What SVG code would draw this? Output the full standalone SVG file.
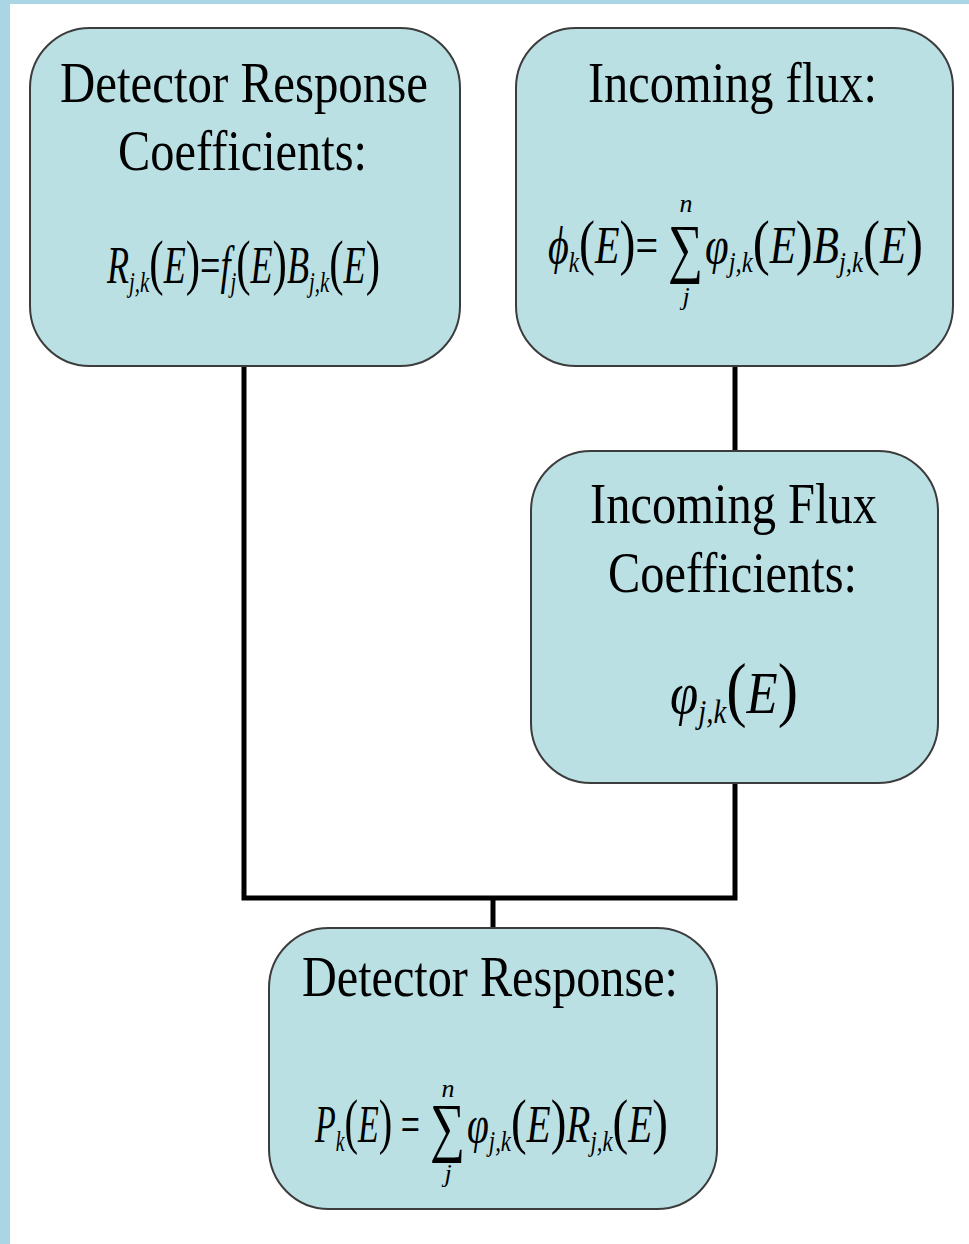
<svg xmlns="http://www.w3.org/2000/svg" width="969" height="1244" viewBox="0 0 969 1244">
<style>
.box{fill:#bae0e4;stroke:#3c3c3c;stroke-width:2}
.h{font-family:"Liberation Serif","Times New Roman",serif;font-size:57px;fill:#000}
.m{font-family:"Liberation Serif","Times New Roman",serif;font-style:italic;font-size:52px;fill:#000}
.s{font-size:30px}
.p{font-style:normal;font-size:62px}
.u{font-style:normal}
.sum{font-family:"Liberation Serif","DejaVu Serif",serif;font-size:66px;fill:#000}
.lim{font-family:"Liberation Serif","Times New Roman",serif;font-style:italic;font-size:26px;fill:#000;text-anchor:middle}
.con{fill:none;stroke:#000;stroke-width:5}
</style>
<rect x="0" y="0" width="969" height="1244" fill="#fff"/>
<rect x="0" y="0" width="10" height="1244" fill="#a9d5e5"/>
<rect x="0" y="0" width="969" height="4" fill="#a9d5e5"/>
<g id="connectors">
<path class="con" d="M244 366 V898 H735 V783"/>
<path class="con" d="M735 366 V451"/>
<path class="con" d="M493 898 V928"/>
</g>
<g id="node-detector-response-coefficients">
<rect class="box" x="30" y="28" width="430" height="338" rx="60"/>
<text class="h" x="60" y="102" textLength="368" lengthAdjust="spacingAndGlyphs">Detector Response</text>
<text class="h" x="118" y="170" textLength="249" lengthAdjust="spacingAndGlyphs">Coefficients:</text>
<text class="m" x="107" y="283" textLength="273" lengthAdjust="spacingAndGlyphs">R<tspan class="s" dy="9">j,k</tspan><tspan class="p" dy="-9">(</tspan>E<tspan class="p">)</tspan><tspan class="u">=</tspan>f<tspan class="s" dy="9">j</tspan><tspan class="p" dy="-9">(</tspan>E<tspan class="p">)</tspan>B<tspan class="s" dy="9">j,k</tspan><tspan class="p" dy="-9">(</tspan>E<tspan class="p">)</tspan></text>
</g>
<g id="node-incoming-flux">
<rect class="box" x="516" y="28" width="437" height="338" rx="60"/>
<text class="h" x="588" y="102" textLength="289" lengthAdjust="spacingAndGlyphs">Incoming flux:</text>
<text class="m" x="548" y="263" textLength="110" lengthAdjust="spacingAndGlyphs">ϕ<tspan class="s" dy="9">k</tspan><tspan class="p" dy="-9">(</tspan>E<tspan class="p">)</tspan><tspan class="u">=</tspan></text>
<text class="sum" x="668" y="270" textLength="35" lengthAdjust="spacingAndGlyphs">∑</text>
<text class="lim" x="686" y="212">n</text>
<text class="lim" x="686" y="305">j</text>
<text class="m" x="705" y="263" textLength="218" lengthAdjust="spacingAndGlyphs">φ<tspan class="s" dy="9">j,k</tspan><tspan class="p" dy="-9">(</tspan>E<tspan class="p">)</tspan>B<tspan class="s" dy="9">j,k</tspan><tspan class="p" dy="-9">(</tspan>E<tspan class="p">)</tspan></text>
</g>
<g id="node-incoming-flux-coefficients">
<rect class="box" x="531" y="451" width="407" height="332" rx="60"/>
<text class="h" x="590" y="523" textLength="287" lengthAdjust="spacingAndGlyphs">Incoming Flux</text>
<text class="h" x="608" y="592" textLength="249" lengthAdjust="spacingAndGlyphs">Coefficients:</text>
<text class="m" x="670" y="713" textLength="128" lengthAdjust="spacingAndGlyphs" style="font-size:60px">φ<tspan class="s" dy="10" style="font-size:34px">j,k</tspan><tspan class="p" dy="-10" style="font-size:72px">(</tspan>E<tspan class="p" style="font-size:72px">)</tspan></text>
</g>
<g id="node-detector-response">
<rect class="box" x="269" y="928" width="448" height="281" rx="60"/>
<text class="h" x="302" y="996" textLength="376" lengthAdjust="spacingAndGlyphs">Detector Response:</text>
<text class="m" x="315" y="1142" textLength="105" lengthAdjust="spacingAndGlyphs">P<tspan class="s" dy="9">k</tspan><tspan class="p" dy="-9">(</tspan>E<tspan class="p">)</tspan><tspan class="u"> =</tspan></text>
<text class="sum" x="430" y="1149" textLength="35" lengthAdjust="spacingAndGlyphs">∑</text>
<text class="lim" x="448" y="1097">n</text>
<text class="lim" x="448" y="1182">j</text>
<text class="m" x="467" y="1142" textLength="201" lengthAdjust="spacingAndGlyphs">φ<tspan class="s" dy="9">j,k</tspan><tspan class="p" dy="-9">(</tspan>E<tspan class="p">)</tspan>R<tspan class="s" dy="9">j,k</tspan><tspan class="p" dy="-9">(</tspan>E<tspan class="p">)</tspan></text>
</g>
</svg>
